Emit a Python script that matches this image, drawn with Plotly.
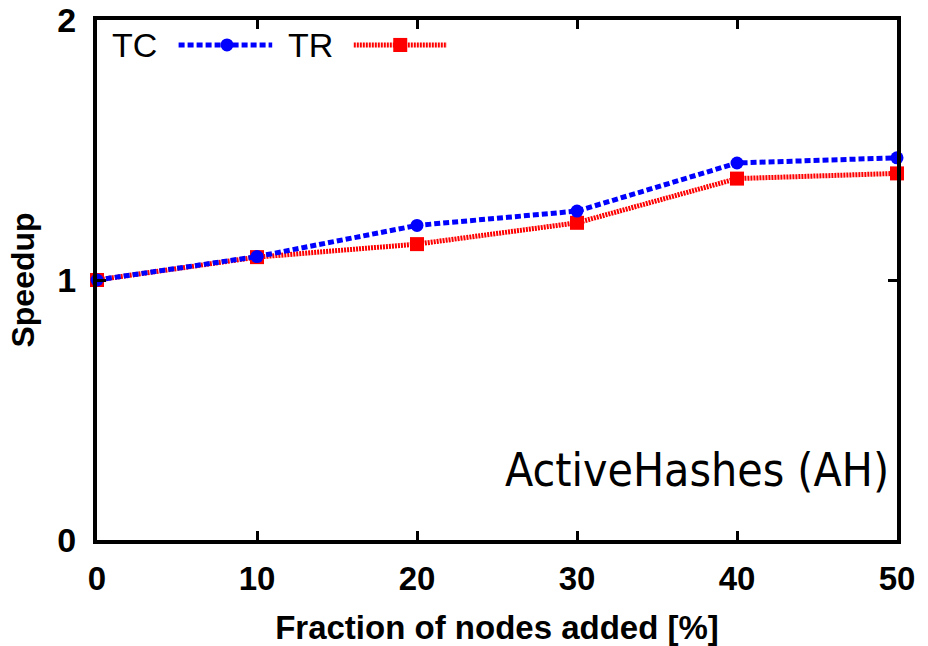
import plotly.graph_objects as go

x_vals = [0, 10, 20, 30, 40, 50]
tc_vals = [1.0, 1.09, 1.21, 1.265, 1.45, 1.47]
tr_vals = [1.0, 1.088, 1.138, 1.22, 1.39, 1.41]
x_ticks = [0, 10, 20, 30, 40, 50]
y_ticks = [0, 1, 2]

fig = go.Figure()
fig.add_trace(go.Scatter(x=x_vals, y=tr_vals, mode="lines+markers", name="TR",
                         line=dict(color="#ff0000", width=5, dash="2px,1px"),
                         marker=dict(symbol="square", size=14, color="#ff0000"),
                         cliponaxis=False))
fig.add_trace(go.Scatter(x=x_vals, y=tc_vals, mode="lines+markers", name="TC",
                         line=dict(color="#0000ff", width=5, dash="6px,3px"),
                         marker=dict(symbol="circle", size=13, color="#0000ff"),
                         cliponaxis=False))

axis_common = dict(showline=True, linecolor="black", linewidth=4, mirror="allticks",
                   ticks="inside", ticklen=9, tickwidth=3, tickcolor="black",
                   showgrid=False, zeroline=False, automargin=False)

fig.update_xaxes(range=[0, 50], tickvals=x_ticks, **axis_common, ticklabelstandoff=6,
                 tickfont=dict(family="Liberation Sans, Arial", size=33, color="black", weight="bold"),
                 title=dict(text="Fraction of nodes added [%]", standoff=22,
                            font=dict(family="Liberation Sans, Arial", size=33, color="black", weight="bold")))
fig.update_yaxes(range=[0, 2], tickvals=y_ticks, **axis_common, ticklabelstandoff=10,
                 tickfont=dict(family="Liberation Sans, Arial", size=34, color="black", weight="bold"),
                 title=dict(text="Speedup", standoff=14,
                            font=dict(family="Liberation Sans, Arial", size=32, color="black", weight="bold")))

# legend drawn manually (text before sample, as in reference)
leg_font = dict(family="Liberation Sans, Arial", size=34, color="black")
fig.add_annotation(xref="paper", yref="paper", x=0.016, y=0.952, text="TC", showarrow=False,
                   xanchor="left", yanchor="middle", font=leg_font)
fig.add_annotation(xref="paper", yref="paper", x=0.236, y=0.952, text="TR", showarrow=False,
                   xanchor="left", yanchor="middle", font=leg_font)
fig.add_shape(type="line", xref="paper", yref="paper", x0=0.102, x1=0.219, y0=0.952, y1=0.952,
              line=dict(color="#0000ff", width=5, dash="6px,3px"))
fig.add_shape(type="circle", xref="paper", yref="paper", x0=0.1544, x1=0.1706, y0=0.9395, y1=0.9645,
              line=dict(width=0), fillcolor="#0000ff")
fig.add_shape(type="line", xref="paper", yref="paper", x0=0.321, x1=0.4375, y0=0.952, y1=0.952,
              line=dict(color="#ff0000", width=5, dash="2px,1px"))
fig.add_shape(type="rect", xref="paper", yref="paper", x0=0.3703, x1=0.3878, y0=0.9385, y1=0.9655,
              line=dict(width=0), fillcolor="#ff0000")

fig.add_annotation(xref="paper", yref="paper", x=0.993, y=0.135, text="ActiveHashes (AH)",
                   showarrow=False, xanchor="right", yanchor="middle",
                   font=dict(family="DejaVu Sans Condensed, Liberation Sans, Arial", size=46, color="black"))

fig.update_layout(width=928, height=646, showlegend=False,
                  margin=dict(l=97, r=31, t=20, b=106),
                  plot_bgcolor="white", paper_bgcolor="white")

fig.write_html("out.html")
